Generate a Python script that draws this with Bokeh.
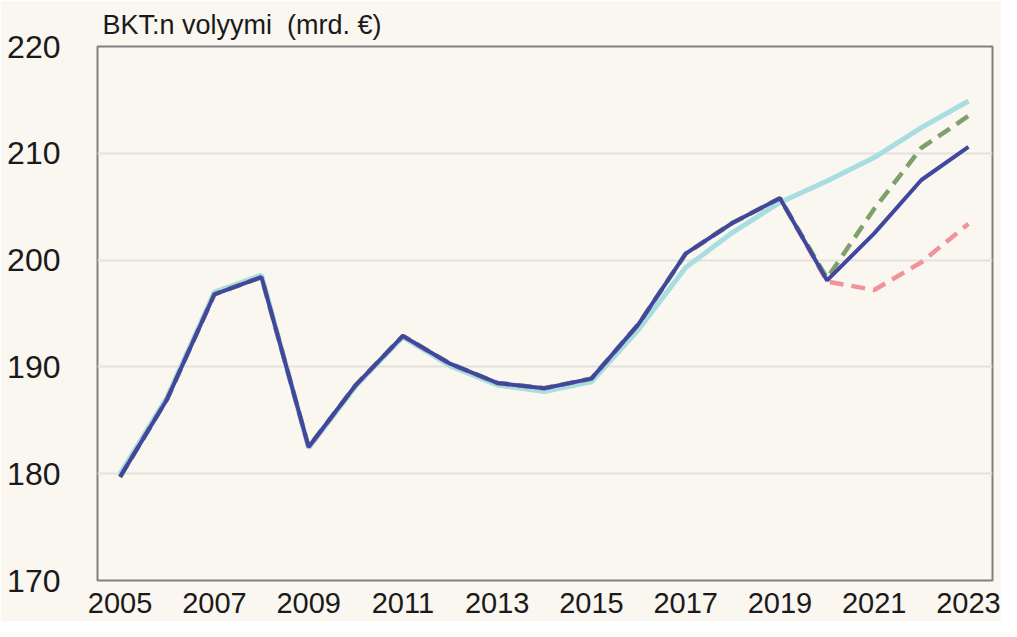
from bokeh.plotting import figure
from bokeh.models import FixedTicker, Range1d
from bokeh.embed import file_html
from bokeh.resources import INLINE

years = list(range(2005, 2024))
actual = [179.7, 187.0, 196.8, 198.4, 182.5, 188.3, 192.9, 190.3, 188.5, 188.0, 188.9,
          194.0, 200.6, 203.5, 205.8, 198.1, 202.5, 207.5, 210.6]
precrisis = [180.0, 187.2, 197.0, 198.6, 182.4, 188.2, 192.8, 190.1, 188.3, 187.7, 188.6,
             193.5, 199.3, 202.6, 205.4, 207.4, 209.6, 212.4, 214.9]
optimistic = [179.7, 187.0, 196.8, 198.4, 182.5, 188.3, 192.9, 190.3, 188.5, 188.0, 188.9,
              194.0, 200.6, 203.5, 205.8, 198.3, 204.8, 210.5, 213.5]
pessimistic = [179.7, 187.0, 196.8, 198.4, 182.5, 188.3, 192.9, 190.3, 188.5, 188.0, 188.9,
               194.0, 200.6, 203.5, 205.8, 198.0, 197.2, 199.8, 203.4]
x_ticks = [2005, 2007, 2009, 2011, 2013, 2015, 2017, 2019, 2021, 2023]
y_ticks = [170, 180, 190, 200, 210, 220]
title_text = "BKT:n volyymi\u00a0 (mrd. \u20ac)"

BG = "#FAF6F0"
FONT = "Liberation Sans"

p = figure(width=1001, height=621, output_backend="svg", toolbar_location=None,
           x_range=Range1d(2004.52, 2023.51), y_range=Range1d(170, 220),
           min_border_left=97, min_border_right=9, min_border_top=45, min_border_bottom=41)
p.background_fill_color = BG
p.border_fill_color = BG
p.outline_line_color = "#808080"
p.outline_line_width = 2

p.title.text = title_text
p.title.align = "left"
p.title.offset = 5
p.title.text_font = FONT
p.title.text_font_size = "27px"
p.title.text_font_style = "normal"
p.title.text_color = "#1a1a1a"
p.title.standoff = 14

p.xgrid.grid_line_color = None
p.ygrid.grid_line_color = "#E4E0DB"
p.ygrid.grid_line_width = 2

p.xaxis.ticker = FixedTicker(ticks=x_ticks)
p.yaxis.ticker = FixedTicker(ticks=y_ticks)
for ax in (p.xaxis[0], p.yaxis[0]):
    ax.axis_line_color = None
    ax.major_tick_line_color = None
    ax.minor_tick_line_color = None
    ax.major_label_text_font = FONT
    ax.major_label_text_color = "#1a1a1a"
p.xaxis.major_label_text_font_size = "29px"
p.yaxis.major_label_text_font_size = "32px"
p.xaxis.major_label_standoff = 6
p.yaxis.major_label_standoff = 31

p.line(years, precrisis, line_color="#A8DDE1", line_width=5)
p.line(years, pessimistic, line_color="#F2929A", line_width=4.5, line_dash="14 8")
p.line(years, optimistic, line_color="#7FA06B", line_width=4.5, line_dash="14 8")
p.line(years, actual, line_color="#3F479E", line_width=4)

open("out.html", "w").write(file_html(p, INLINE))
